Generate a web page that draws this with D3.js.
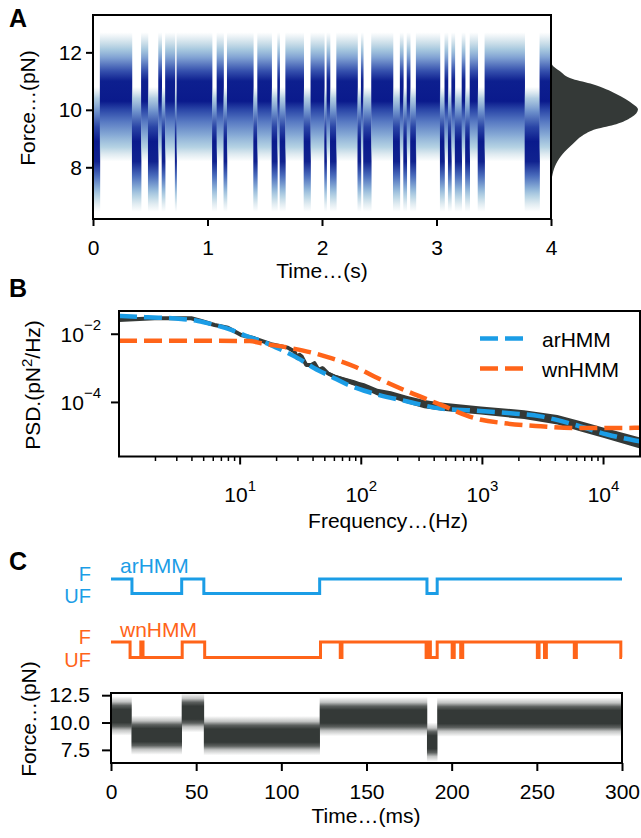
<!DOCTYPE html>
<html>
<head>
<meta charset="utf-8">
<script src="https://cdn.jsdelivr.net/npm/d3@7"></script>
<style>
  body { margin: 0; background: #fff; }
  text { font-family: "Liberation Sans", Arial, Helvetica, sans-serif; }
</style>
</head>
<body>
<svg id="fig" width="641" height="838"></svg>
<script>
// ---------- data ----------
// A: dwell segments of the 4 s force trace (start time in s, 1 = F, 0 = UF)
const aStart = [0, 0.06, 0.34, 0.42, 0.48, 0.57, 0.60, 0.63, 0.715, 0.73, 1.04, 1.08, 1.14, 1.17, 1.40, 1.435,
  1.56, 1.61, 1.63, 1.68, 1.84, 1.90, 2.02, 2.04, 2.07, 2.125, 2.31, 2.34, 2.36, 2.43, 2.62, 2.68, 2.71, 2.74,
  2.77, 2.82, 3.03, 3.07, 3.10, 3.13, 3.16, 3.22, 3.25, 3.29, 3.36, 3.42, 3.77, 3.90]
const aState = [0, 1, 0, 1, 0, 1, 0, 1, 0, 1, 0, 1, 0, 1, 0, 1,
  0, 1, 0, 1, 0, 1, 0, 1, 0, 1, 0, 1, 0, 1, 0, 1, 0, 1,
  0, 1, 0, 1, 0, 1, 0, 1, 0, 1, 0, 1, 0, 1]
const aEnd = 4
// A: marginal force histogram (pN, relative density)
const histForce = [11.75, 11.59, 11.36, 11.07, 10.89, 10.55, 10.20, 10.02, 9.73, 9.50, 9.33, 9.10, 8.81, 8.46, 8.11, 7.76, 7.53, 7.3]
const histDensity = [0, 0.01, 0.096, 0.25, 0.48, 0.75, 0.94, 1.0, 0.92, 0.75, 0.52, 0.36, 0.25, 0.134, 0.058, 0.018, 0.005, 0]

// B: power spectral density
const psdFreq = [1, 1.97, 3.95, 4.78, 6.15, 7.92, 10.2, 13.1, 18, 24.7, 28.1, 29.6, 30.9, 32.3, 35.1, 38.6, 41, 44.3,
  48, 52.8, 60, 72.6, 87.8, 96.4, 106, 136, 176, 241, 331, 455, 665, 972, 2210, 4160, 6490, 10100, 20000]
const psdData = [0.0262, 0.0294, 0.0294, 0.0245, 0.0187, 0.0156, 0.0095, 0.0076, 0.0051, 0.00405, 0.0031, 0.0020,
  0.0025, 0.0022, 0.00126, 0.00126, 0.00142, 0.0009, 0.00101, 0.00072, 0.000575, 0.00046, 0.00037, 0.00033,
  0.000295, 0.0002, 0.00017, 0.00012, 0.000089, 0.000076, 0.000066, 0.000058, 0.000044, 0.000031, 0.00002,
  0.0000129, 0.0000065]
const psdSpread = [0, 0, 0, 0, 0, 0, 0, 0, 0.01, 0.02, 0.03, 0.03, 0.03, 0.03, 0.04, 0.04, 0.04, 0.05,
  0.05, 0.05, 0.06, 0.07, 0.08, 0.08, 0.09, 0.1, 0.1, 0.11, 0.12, 0.12, 0.12, 0.12, 0.13, 0.14, 0.15, 0.15, 0.16]
const arFreq = [1, 1.73, 3.27, 4.48, 6.15, 8.45, 11.6, 15.9, 21.8, 29.9, 41, 56.4, 77.3, 106, 136, 241, 455, 855, 1610, 3030, 5710, 10700, 20000]
const arPsd = [0.0343, 0.0314, 0.028, 0.0245, 0.0187, 0.0134, 0.0085, 0.0058, 0.0035, 0.00199, 0.00101, 0.000575,
  0.00033, 0.00022, 0.00017, 0.000107, 0.000066, 0.000058, 0.000049, 0.000039, 0.0000224, 0.0000115, 0.0000072]
const wnFreq = [1, 5, 12, 14.9, 26.4, 41, 56.4, 87.8, 128, 241, 455, 855, 1610, 3030, 5710, 20000]
const wnPsd = [0.0064, 0.0064, 0.0063, 0.00546, 0.0039, 0.00278, 0.002, 0.00113, 0.000575, 0.00021, 0.000085,
  0.000035, 0.000024, 0.00002, 0.0000178, 0.000018]

// C: decoded state sequences (transition time in ms, 1 = F, 0 = UF)
const arTime = [0, 12.3, 41.5, 54.5, 122.5, 185.5, 191.5]
const arState = [1, 0, 1, 0, 1, 0, 1]
const wnTime = [0, 11.2, 17.5, 18.8, 41.8, 55, 123, 134.6, 135.6, 185, 186.3, 187.5, 191.5, 200.3, 201.5,
  205.3, 206.5, 250.3, 251.3, 254.5, 255.6, 272, 273.2, 299.3]
const wnState = [1, 0, 1, 0, 1, 0, 1, 0, 1, 0, 1, 0, 1, 0, 1, 0, 1, 0, 1, 0, 1, 0, 1, 0]
const cEnd = 300
// C: 300 ms force trace, dwell segments with mean force (pN)
const cSegStart = [0, 12, 41.5, 54.5, 122.5, 185.5, 191.5]
const cSegEnd = [12, 41.5, 54.5, 122.5, 185.5, 191.5, 300]
const cSegMean = [10.6, 8.85, 10.9, 8.8, 10.55, 8.2, 10.5]

// ---------- drawing ----------
const BLUE = "#1b9de6", ORANGE = "#ff6419", DARK = "#343937"
const svg = d3.select("#fig")
svg.append("rect").attr("width", 641).attr("height", 838).attr("fill", "#fff")
const defs = svg.append("defs")

function gradient(id, stops, y) {
  const y0 = y(stops[0][0]), y1 = y(stops[stops.length - 1][0])
  const g = defs.append("linearGradient").attr("id", id)
      .attr("gradientUnits", "userSpaceOnUse")
      .attr("x1", 0).attr("x2", 0).attr("y1", y0).attr("y2", y1)
  stops.forEach(s => g.append("stop")
      .attr("offset", (y(s[0]) - y0) / (y1 - y0))
      .attr("stop-color", s[1]).attr("stop-opacity", s[2]))
}

function styleAxis(g, size) {
  g.select(".domain").remove()
  g.selectAll(".tick line").attr("stroke", "#000").attr("stroke-width", 2)
  g.selectAll(".tick text").attr("fill", "#000").style("font-size", size + "px")
}

function frame(x0, x1, y0, y1) {
  svg.append("rect").attr("x", x0).attr("y", y0).attr("width", x1 - x0).attr("height", y1 - y0)
      .attr("fill", "none").attr("stroke", "#000").attr("stroke-width", 2)
}

function panelLetter(t, x, y) {
  svg.append("text").attr("x", x).attr("y", y).text(t)
      .style("font-size", "25px").style("font-weight", "bold")
}

// ===== Panel A =====
const xA = d3.scaleLinear().domain([0, 4]).range([93, 551])
const yA = d3.scaleLinear().domain([6.2, 13.3]).range([219, 15])

gradient("gradF", [
  [12.7, "#b4cfdc", 0], [12.35, "#a8c8da", 0.55], [12.1, "#9dc2db", 0.9], [11.8, "#7e9fd2", 1],
  [11.35, "#3550ad", 1], [11.0, "#0d1f8f", 1], [10.3, "#0a1a8c", 1], [10.0, "#2b47a8", 1],
  [9.6, "#5678c2", 1], [9.1, "#89acd6", 1], [8.7, "#a7cade", 0.85], [8.45, "#b0cddc", 0.4], [8.2, "#b4cfdc", 0]], yA)
gradient("gradU", [
  [10.8, "#b4cfdc", 0], [10.4, "#9dc0da", 0.8], [9.95, "#6f92cc", 1], [9.4, "#2a45a6", 1],
  [8.9, "#0a1a8c", 1], [8.2, "#10228f", 1], [7.7, "#4a6cbc", 1], [7.25, "#8db2d8", 1],
  [6.95, "#a7cade", 0.75], [6.7, "#b0cddc", 0.35], [6.45, "#b4cfdc", 0]], yA)

defs.append("clipPath").attr("id", "clipA").append("rect")
    .attr("x", 93).attr("y", 15).attr("width", 458).attr("height", 204)

const aSegs = aStart.map((s, i) => ({ s: s, e: i < aStart.length - 1 ? aStart[i + 1] : aEnd, st: aState[i] }))
svg.append("g").attr("clip-path", "url(#clipA)")
  .selectAll("rect").data(aSegs).join("rect")
    .attr("x", d => xA(d.s))
    .attr("width", d => xA(d.e) - xA(d.s) + 0.3)
    .attr("y", d => d.st ? yA(12.7) : yA(10.8))
    .attr("height", d => d.st ? yA(8.2) - yA(12.7) : yA(6.45) - yA(10.8))
    .attr("fill", d => d.st ? "url(#gradF)" : "url(#gradU)")

// marginal histogram
const xH = d3.scaleLinear().domain([0, 1]).range([551, 638])
const hist = histForce.map((f, i) => ({ f: f, d: histDensity[i] }))
svg.append("path").datum(hist)
    .attr("fill", DARK)
    .attr("d", d3.area().y(d => yA(d.f)).x0(xH(0)).x1(d => xH(d.d)).curve(d3.curveMonotoneY))

frame(93, 551, 15, 219)
svg.append("g").attr("transform", "translate(0,219)")
    .call(d3.axisBottom(xA).ticks(5).tickSize(7).tickPadding(14).tickFormat(d3.format("d")))
    .call(g => styleAxis(g, 21))
svg.append("g").attr("transform", "translate(93,0)")
    .call(d3.axisLeft(yA).tickValues([8, 10, 12]).tickSize(7).tickPadding(4))
    .call(g => styleAxis(g, 21))
svg.append("text").attr("x", 322).attr("y", 278).attr("text-anchor", "middle")
    .style("font-size", "21px").text("Time…(s)")
svg.append("text").attr("transform", "translate(35,108) rotate(-90)").attr("text-anchor", "middle")
    .style("font-size", "21px").text("Force…(pN)")
panelLetter("A", 9, 27)

// ===== Panel B =====
const xB = d3.scaleLog().domain([1, 2e4]).range([119, 640])
const yB = d3.scaleLog().domain([2.6e-6, 0.048]).range([456.5, 311])

defs.append("clipPath").attr("id", "clipB").append("rect")
    .attr("x", 119).attr("y", 311).attr("width", 521).attr("height", 145.5)
const gB = svg.append("g").attr("clip-path", "url(#clipB)")

const psd = psdFreq.map((f, i) => ({ f: f, p: psdData[i], s: psdSpread[i] }))
gB.append("path").datum(psd).attr("fill", DARK)
    .attr("d", d3.area().x(d => xB(d.f))
      .y0(d => yB(d.p / Math.pow(10, d.s))).y1(d => yB(d.p * Math.pow(10, d.s))))
gB.append("path").datum(psd).attr("fill", "none").attr("stroke", DARK).attr("stroke-width", 4)
    .attr("stroke-linejoin", "round")
    .attr("d", d3.line().x(d => xB(d.f)).y(d => yB(d.p)))

const fitLine = d3.line().x(d => xB(d[0])).y(d => yB(d[1])).curve(d3.curveMonotoneX)
gB.append("path").datum(arFreq.map((f, i) => [f, arPsd[i]]))
    .attr("fill", "none").attr("stroke", BLUE).attr("stroke-width", 4.5)
    .attr("stroke-dasharray", "18,7").attr("d", fitLine)
gB.append("path").datum(wnFreq.map((f, i) => [f, wnPsd[i]]))
    .attr("fill", "none").attr("stroke", ORANGE).attr("stroke-width", 4.5)
    .attr("stroke-dasharray", "18,7").attr("d", fitLine)

frame(119, 640, 311, 456.5)

// x ticks (log, with minor ticks)
const bMajorX = [10, 100, 1000, 10000]
const bMinorX = []
;[1, 10, 100, 1000, 10000].forEach(dec => d3.range(2, 10).forEach(m => { if (dec * m < 2e4) bMinorX.push(dec * m) }))
svg.append("g").selectAll("line").data(bMinorX).join("line")
    .attr("x1", d => xB(d)).attr("x2", d => xB(d)).attr("y1", 456.5).attr("y2", 461)
    .attr("stroke", "#000").attr("stroke-width", 1.5)
svg.append("g").selectAll("line").data(bMajorX).join("line")
    .attr("x1", d => xB(d)).attr("x2", d => xB(d)).attr("y1", 456.5).attr("y2", 464.5)
    .attr("stroke", "#000").attr("stroke-width", 2)
const bxLab = svg.append("g").selectAll("text").data(bMajorX).join("text")
    .attr("x", d => xB(d)).attr("y", 502).attr("text-anchor", "middle").style("font-size", "21px")
bxLab.append("tspan").text("10")
bxLab.append("tspan").attr("dy", -11).style("font-size", "15px").text(d => Math.round(Math.log10(d)))

const bMajorY = [1e-4, 1e-2]
svg.append("g").selectAll("line").data(bMajorY).join("line")
    .attr("x1", 111).attr("x2", 119).attr("y1", d => yB(d)).attr("y2", d => yB(d))
    .attr("stroke", "#000").attr("stroke-width", 2)
const byLab = svg.append("g").selectAll("text").data(bMajorY).join("text")
    .attr("x", 101).attr("y", d => yB(d) + 8).attr("text-anchor", "end").style("font-size", "21px")
byLab.append("tspan").text("10")
byLab.append("tspan").attr("dy", -12).style("font-size", "15px").text(d => "\u2212" + Math.round(-Math.log10(d)))

// legend
const legB = [["arHMM", BLUE, 338.5], ["wnHMM", ORANGE, 368.5]]
legB.forEach(l => {
  svg.append("line").attr("x1", 480).attr("x2", 524).attr("y1", l[2]).attr("y2", l[2])
      .attr("stroke", l[1]).attr("stroke-width", 4.5).attr("stroke-dasharray", "18,7")
  svg.append("text").attr("x", 542).attr("y", l[2] + 8).style("font-size", "21px").text(l[0])
})
svg.append("text").attr("x", 388).attr("y", 528).attr("text-anchor", "middle")
    .style("font-size", "21px").text("Frequency…(Hz)")
const bYl = svg.append("text").attr("transform", "translate(40,385) rotate(-90)").attr("text-anchor", "middle")
    .style("font-size", "21px")
bYl.append("tspan").text("PSD.(pN")
bYl.append("tspan").attr("dy", -8).style("font-size", "15px").text("2")
bYl.append("tspan").attr("dy", 8).text("/Hz)")
panelLetter("B", 9, 297)

// ===== Panel C =====
const xC = d3.scaleLinear().domain([0, 300]).range([111, 622])
const yAr = d3.scaleLinear().domain([0, 1]).range([593.5, 579])
const yWn = d3.scaleLinear().domain([0, 1]).range([657.5, 642])
const yC = d3.scaleLinear().domain([6.3, 12.7]).range([763, 693])

function stateTrace(times, states, y, color) {
  const pts = times.map((t, i) => [t, states[i]])
  pts.push([cEnd, states[states.length - 1]])
  svg.append("path").datum(pts).attr("fill", "none").attr("stroke", color).attr("stroke-width", 3)
      .attr("d", d3.line().x(d => xC(d[0])).y(d => y(d[1])).curve(d3.curveStepAfter))
}
stateTrace(arTime, arState, yAr, BLUE)
stateTrace(wnTime, wnState, yWn, ORANGE)

;[["arHMM", BLUE, 573, yAr], ["wnHMM", ORANGE, 637, yWn]].forEach(l => {
  svg.append("text").attr("x", 120).attr("y", l[2]).attr("fill", l[1]).style("font-size", "21px").text(l[0])
  svg.append("text").attr("x", 91).attr("y", l[3](1) + 2).attr("text-anchor", "end")
      .attr("fill", l[1]).style("font-size", "20px").text("F")
  svg.append("text").attr("x", 91).attr("y", l[3](0) + 9).attr("text-anchor", "end")
      .attr("fill", l[1]).style("font-size", "20px").text("UF")
})

// force trace bands
defs.append("clipPath").attr("id", "clipC").append("rect")
    .attr("x", 111).attr("y", 693).attr("width", 511).attr("height", 70)
const cSegs = cSegStart.map((s, i) => ({ s: s, e: cSegEnd[i], m: cSegMean[i], id: "gc" + i }))
cSegs.forEach(d => gradient(d.id, [
  [d.m + 1.8, DARK, 0], [d.m + 1.3, DARK, 0.3], [d.m + 0.95, DARK, 0.8], [d.m + 0.6, DARK, 1],
  [d.m - 0.6, DARK, 1], [d.m - 0.95, DARK, 0.8], [d.m - 1.3, DARK, 0.3], [d.m - 1.8, DARK, 0]], yC))
svg.append("g").attr("clip-path", "url(#clipC)")
  .selectAll("rect").data(cSegs).join("rect")
    .attr("x", d => xC(d.s)).attr("width", d => xC(d.e) - xC(d.s) + 0.3)
    .attr("y", d => yC(d.m + 1.8)).attr("height", d => yC(d.m - 1.8) - yC(d.m + 1.8))
    .attr("fill", d => `url(#${d.id})`)

frame(111, 622, 693, 763)
svg.append("g").attr("transform", "translate(0,763)")
    .call(d3.axisBottom(xC).tickValues([0, 50, 100, 150, 200, 250, 300]).tickSize(8).tickPadding(13))
    .call(g => styleAxis(g, 21))
svg.append("g").attr("transform", "translate(111,0)")
    .call(d3.axisLeft(yC).tickValues([7.5, 10, 12.5]).tickSize(9).tickPadding(12).tickFormat(d3.format(".1f")))
    .call(g => styleAxis(g, 21))
svg.append("text").attr("x", 366).attr("y", 823).attr("text-anchor", "middle")
    .style("font-size", "21px").text("Time…(ms)")
svg.append("text").attr("transform", "translate(36,719) rotate(-90)").attr("text-anchor", "middle")
    .style("font-size", "21px").text("Force…(pN)")
panelLetter("C", 9, 570)
</script>
</body>
</html>
